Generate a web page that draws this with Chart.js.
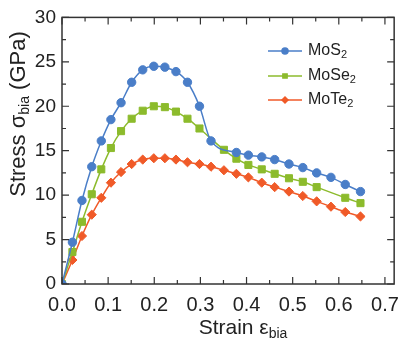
<!DOCTYPE html>
<html>
<head>
<meta charset="utf-8">
<script src="https://cdn.jsdelivr.net/npm/chart.js@4.4.1/dist/chart.umd.min.js"></script>
<style>
  html, body { margin: 0; padding: 0; background: #fff; }
</style>
</head>
<body>
<canvas id="stressChart" width="408" height="342"></canvas>
<script>
// biaxial strain values (shared by all three curves)
const strain = [0, 0.0226, 0.0433, 0.0645, 0.0852, 0.106, 0.128, 0.151, 0.175, 0.199, 0.223, 0.247, 0.272,
  0.298, 0.323, 0.351, 0.378, 0.404, 0.433, 0.461, 0.492, 0.522, 0.552, 0.583, 0.614, 0.647];

// stress in GPa, null = no marker in the figure
const mos2 = [0, 4.7, 9.4, 13.2, 16.1, 18.5, 20.4, 22.7, 24.1, 24.5, 24.4, 23.9, 22.7,
  20.0, 16.1, null, 14.8, 14.5, 14.3, 14.0, 13.5, 13.1, 12.5, 12.0, 11.2, 10.4];
const mose2 = [0, 3.6, 7.0, 10.1, 12.9, 15.3, 17.2, 18.6, 19.5, 20.0, 19.9, 19.4, 18.6,
  17.5, null, 15.1, 14.1, 13.4, 12.9, 12.4, 11.9, 11.5, 10.9, null, 9.7, 9.1];
const mote2 = [0, 2.7, 5.4, 7.8, 9.7, 11.4, 12.6, 13.5, 14.0, 14.15, 14.15, 14.0, 13.7,
  13.5, 13.2, 12.8, 12.4, 12.0, 11.4, 10.9, 10.4, 9.9, 9.3, 8.7, 8.1, 7.6];

const seriesNames = ['MoS', 'MoSe', 'MoTe'];
const seriesColors = ['#4a7ec8', '#8cbb2c', '#f05a28'];
const xTicks = [0, 0.1, 0.2, 0.3, 0.4, 0.5, 0.6, 0.7];
const yTicks = [0, 5, 10, 15, 20, 25, 30];

const FONT = "'Liberation Sans', Arial, sans-serif";
const INK = '#222';

function toPoints(ys) {
    return strain.map((x, i) => ({ x: x, y: ys[i] }));
}

// draws a run of text pieces, some of them as subscripts, centred on (cx, cy)
function drawRich(ctx, parts, cx, cy, size, subSize, subDrop, align) {
    let total = 0;
    parts.forEach(p => {
        ctx.font = `${p.sub ? subSize : size}px ${FONT}`;
        p.w = ctx.measureText(p.t).width;
        total += p.w;
    });
    let x = align === 'left' ? cx : cx - total / 2;
    ctx.textAlign = 'left';
    ctx.textBaseline = 'middle';
    parts.forEach(p => {
        ctx.font = `${p.sub ? subSize : size}px ${FONT}`;
        ctx.fillText(p.t, x, cy + (p.sub ? subDrop : 0));
        x += p.w;
    });
}

const framePlugin = {
    id: 'frame',
    afterDatasetsDraw(chart) {
        const { ctx, chartArea: a, scales: { x, y } } = chart;
        ctx.save();
        ctx.strokeStyle = '#333';
        ctx.lineWidth = 1.5;
        ctx.strokeRect(a.left, a.top, a.right - a.left, a.bottom - a.top);

        ctx.lineWidth = 1.2;
        ctx.beginPath();
        // x ticks, top and bottom, pointing in
        for (let i = 0; i <= 14; i++) {
            const px = x.getPixelForValue(i * 0.05);
            const len = i % 2 === 0 ? 7 : 4;
            ctx.moveTo(px, a.bottom); ctx.lineTo(px, a.bottom - len);
            ctx.moveTo(px, a.top); ctx.lineTo(px, a.top + len);
        }
        // y ticks, left and right
        for (let i = 0; i <= 12; i++) {
            const py = y.getPixelForValue(i * 2.5);
            const len = i % 2 === 0 ? 7 : 4;
            ctx.moveTo(a.left, py); ctx.lineTo(a.left + len, py);
            ctx.moveTo(a.right, py); ctx.lineTo(a.right - len, py);
        }
        ctx.stroke();

        // legend
        const styles = ['circle', 'rect', 'rectRot'];
        const rows = [51, 76, 100];
        rows.forEach((ry, i) => {
            ctx.strokeStyle = seriesColors[i];
            ctx.fillStyle = seriesColors[i];
            ctx.lineWidth = 1.5;
            ctx.beginPath();
            ctx.moveTo(268, ry); ctx.lineTo(302, ry);
            ctx.stroke();
            Chart.helpers.drawPoint(ctx, { pointStyle: styles[i], radius: 3, borderWidth: 1 }, 285, ry);
            ctx.fillStyle = INK;
            drawRich(ctx, [{ t: seriesNames[i] }, { t: '2', sub: true }], 308, ry, 16, 11, 4, 'left');
        });

        // axis titles
        ctx.fillStyle = INK;
        drawRich(ctx, [{ t: 'Strain ' }, { t: 'ε' }, { t: 'bia', sub: true }], 243, 328, 21, 14, 6);
        ctx.translate(19, 114);
        ctx.rotate(-Math.PI / 2);
        drawRich(ctx, [{ t: 'Stress ' }, { t: 'σ' }, { t: 'bia', sub: true }, { t: ' (GPa)' }], 0, 0, 22, 14, 6);
        ctx.restore();
    }
};

const ctx = document.getElementById('stressChart').getContext('2d');
const datasets = [mos2, mose2, mote2].map((ys, i) => ({
    label: seriesNames[i] + '2',
    data: toPoints(ys),
    borderColor: seriesColors[i],
    backgroundColor: seriesColors[i],
    borderWidth: 1.5,
    pointStyle: ['circle', 'rect', 'rectRot'][i],
    pointRadius: [4.2, 5, 4.6][i],
    pointBorderWidth: 1,
    cubicInterpolationMode: 'monotone',
    spanGaps: true,
    clip: 0,
    order: i
}));

new Chart(ctx, {
    type: 'line',
    data: { datasets: datasets },
    options: {
        responsive: false,
        animation: false,
        devicePixelRatio: 1,
        layout: { padding: { top: 14, right: 6, left: 0, bottom: 0 } },
        plugins: { legend: { display: false }, tooltip: { enabled: false } },
        scales: {
            x: {
                type: 'linear',
                min: 0,
                max: 0.72,
                afterBuildTicks: s => { s.ticks = xTicks.map(v => ({ value: v })); },
                afterFit: s => { s.height = 58; },
                grid: { display: false, drawTicks: false },
                border: { display: false },
                ticks: {
                    padding: 9,
                    maxRotation: 0,
                    autoSkip: false,
                    color: INK,
                    font: { family: FONT, size: 20 },
                    callback: v => v.toFixed(1)
                }
            },
            y: {
                type: 'linear',
                min: 0,
                max: 30,
                afterBuildTicks: s => { s.ticks = yTicks.map(v => ({ value: v })); },
                afterFit: s => { s.width = 62; },
                grid: { display: false, drawTicks: false },
                border: { display: false },
                ticks: {
                    padding: 6,
                    color: INK,
                    font: { family: FONT, size: 19 }
                }
            }
        }
    },
    plugins: [framePlugin]
});
</script>
</body>
</html>
